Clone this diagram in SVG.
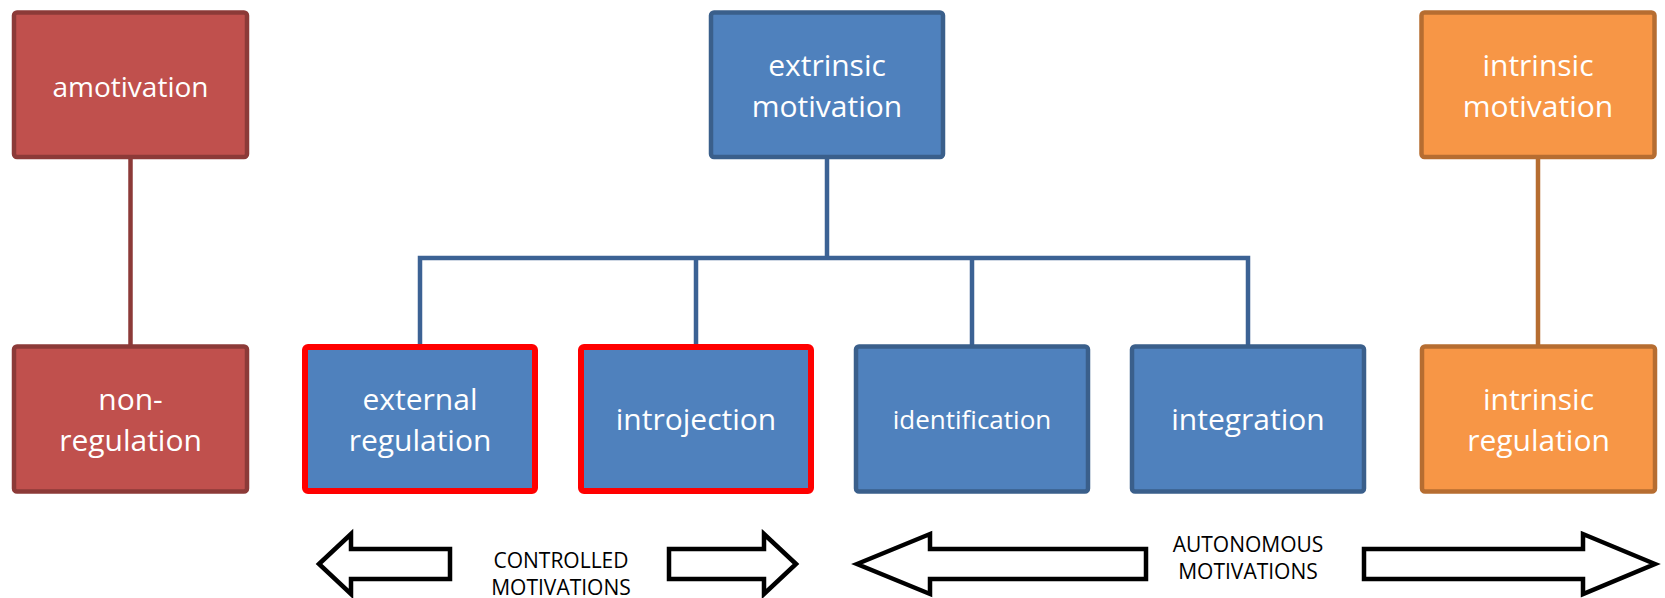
<svg xmlns="http://www.w3.org/2000/svg" width="1665" height="598" viewBox="0 0 1665 598">
<style>
.box{stroke-width:4.5}
.red{fill:#C0504D;stroke:#8C3A38}
.blue{fill:#4F81BD;stroke:#3A5F8B}
.orange{fill:#F79646;stroke:#B66D31}
.hl{stroke:#FF0000;stroke-width:6}
.t{font-family:"Open Sans","Noto Sans","Liberation Sans",sans-serif;fill:#FFFFFF;text-anchor:middle;font-size:30px}
.lbl{font-family:"Open Sans","Noto Sans","Liberation Sans",sans-serif;fill:#000000;text-anchor:middle;font-size:21px}
.c{fill:none;stroke-width:4.5}
.arr{fill:#FFFFFF;stroke:#000000;stroke-width:4.5;stroke-linejoin:miter}
</style>
<rect width="1665" height="598" fill="#FFFFFF"/>
<g id="connectors">
<path class="c" stroke="#8C3A38" d="M130.5,157 V347"/>
<path class="c" stroke="#3C6294" d="M827,157 V258 M420,347 V258 H1248 V347 M696,258 V347 M972,258 V347"/>
<path class="c" stroke="#B66D31" d="M1538,157 V347"/>
</g>
<g id="amotivation">
<rect class="box red" x="14" y="12.5" width="233" height="144.5" rx="3"/>
<text class="t" x="130.5" y="96.5" style="font-size:28px">amotivation</text>
</g>
<g id="extrinsic-motivation">
<rect class="box blue" x="711" y="12.5" width="232" height="144.5" rx="3"/>
<text class="t" x="827" y="76">extrinsic</text>
<text class="t" x="827" y="117">motivation</text>
</g>
<g id="intrinsic-motivation">
<rect class="box orange" x="1421.5" y="12.5" width="233" height="144.5" rx="3"/>
<text class="t" x="1538" y="76">intrinsic</text>
<text class="t" x="1538" y="117">motivation</text>
</g>
<g id="non-regulation">
<rect class="box red" x="14" y="346.5" width="233" height="145" rx="3"/>
<text class="t" x="130.5" y="409.5">non-</text>
<text class="t" x="130.5" y="450.5">regulation</text>
</g>
<g id="external-regulation">
<rect class="box blue hl" x="305" y="347" width="230" height="144" rx="3"/>
<text class="t" x="420" y="409.5">external</text>
<text class="t" x="420" y="450.5">regulation</text>
</g>
<g id="introjection">
<rect class="box blue hl" x="581" y="347" width="230" height="144" rx="3"/>
<text class="t" x="696" y="430">introjection</text>
</g>
<g id="identification">
<rect class="box blue" x="856" y="346.5" width="232" height="145" rx="3"/>
<text class="t" x="972" y="429" style="font-size:26px">identification</text>
</g>
<g id="integration">
<rect class="box blue" x="1132" y="346.5" width="232" height="145" rx="3"/>
<text class="t" x="1248" y="430">integration</text>
</g>
<g id="intrinsic-regulation">
<rect class="box orange" x="1422" y="346.5" width="233" height="145" rx="3"/>
<text class="t" x="1538.5" y="409.5">intrinsic</text>
<text class="t" x="1538.5" y="450.5">regulation</text>
</g>
<g id="controlled-motivations">
<path class="arr" d="M319,564 L351,534 L351,549 L450,549 L450,579 L351,579 L351,594 Z"/>
<path class="arr" d="M796,564 L764,534 L764,549 L669,549 L669,579 L764,579 L764,594 Z"/>
<text class="lbl" x="561" y="568">CONTROLLED</text>
<text class="lbl" x="561" y="595">MOTIVATIONS</text>
</g>
<g id="autonomous-motivations">
<path class="arr" d="M857,564 L930,534 L930,549 L1146,549 L1146,579 L930,579 L930,594 Z"/>
<path class="arr" d="M1655,564 L1583,534 L1583,549 L1364,549 L1364,579 L1583,579 L1583,594 Z"/>
<text class="lbl" x="1248" y="552">AUTONOMOUS</text>
<text class="lbl" x="1248" y="578.5">MOTIVATIONS</text>
</g>
</svg>
